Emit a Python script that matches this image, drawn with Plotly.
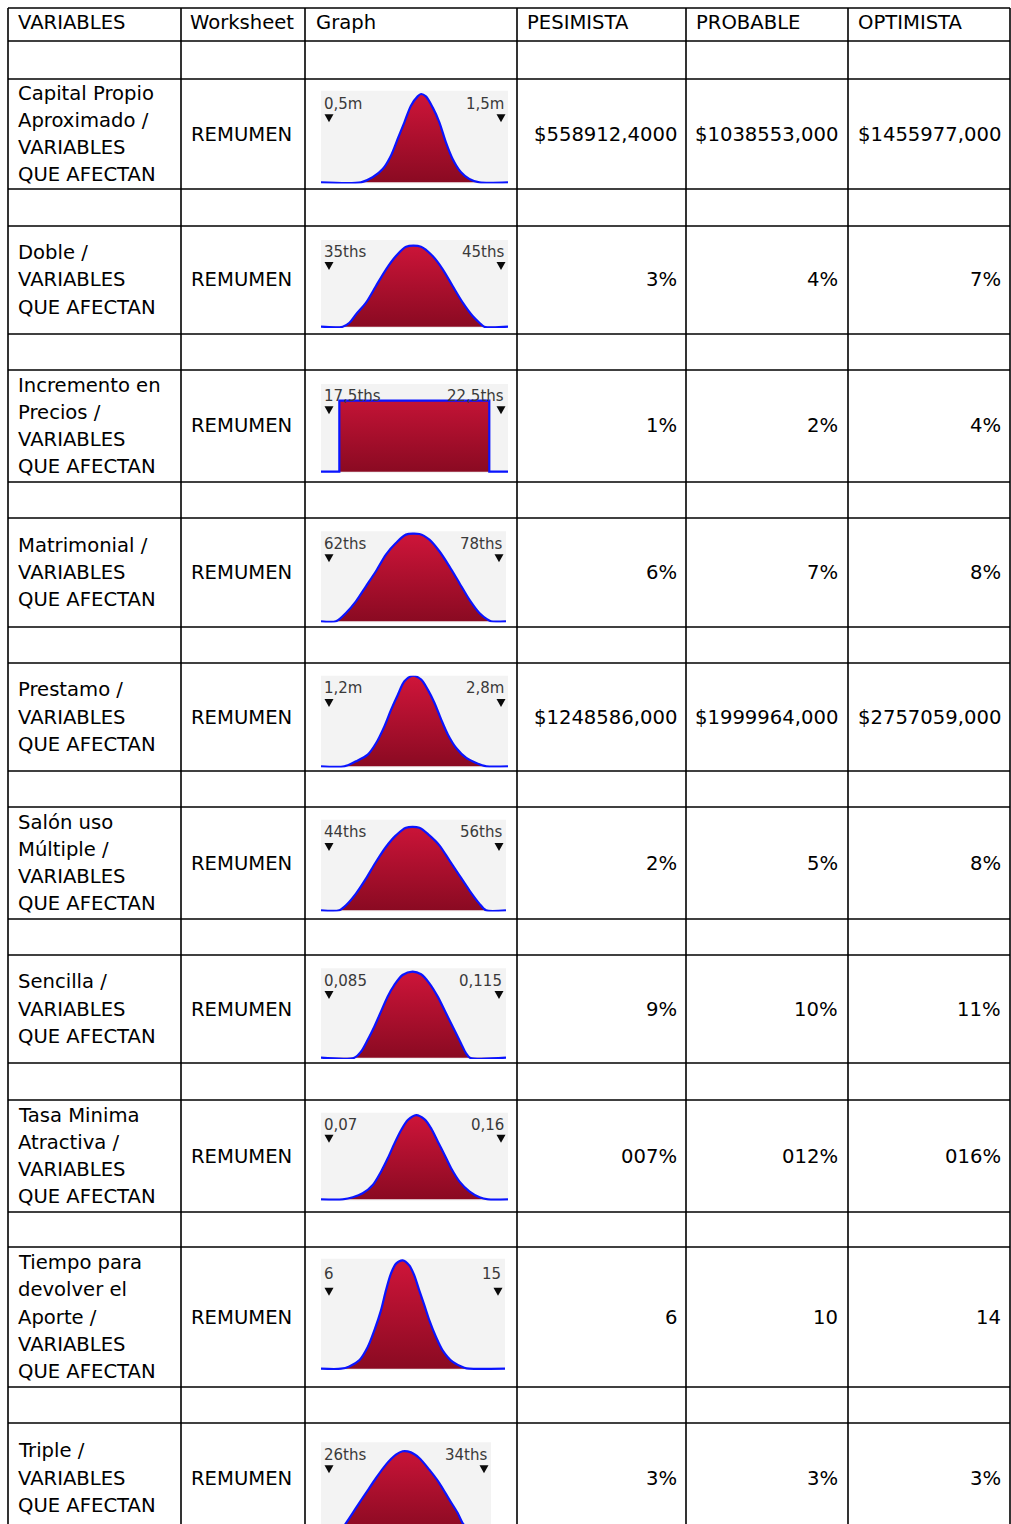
import plotly.graph_objects as go

W, H = 1011, 1524

# ---------------- data ----------------
headers = ["VARIABLES", "Worksheet", "Graph", "PESIMISTA", "PROBABLE", "OPTIMISTA"]
variables = [
    ["Capital Propio", "Aproximado /", "VARIABLES", "QUE AFECTAN"],
    ["Doble /", "VARIABLES", "QUE AFECTAN"],
    ["Incremento en", "Precios /", "VARIABLES", "QUE AFECTAN"],
    ["Matrimonial /", "VARIABLES", "QUE AFECTAN"],
    ["Prestamo /", "VARIABLES", "QUE AFECTAN"],
    ["Salón uso", "Múltiple /", "VARIABLES", "QUE AFECTAN"],
    ["Sencilla /", "VARIABLES", "QUE AFECTAN"],
    ["Tasa Minima", "Atractiva /", "VARIABLES", "QUE AFECTAN"],
    ["Tiempo para", "devolver el", "Aporte /", "VARIABLES", "QUE AFECTAN"],
    ["Triple /", "VARIABLES", "QUE AFECTAN"],
]
worksheets = ["REMUMEN"] * 10
pesimista = ["$558912,4000", "3%", "1%", "6%", "$1248586,000", "2%", "9%", "007%", "6", "3%"]
probable = ["$1038553,000", "4%", "2%", "7%", "$1999964,000", "5%", "10%", "012%", "10", "3%"]
optimista = ["$1455977,000", "7%", "4%", "8%", "$2757059,000", "8%", "11%", "016%", "14", "3%"]

graph_left_labels = ["0,5m", "35ths", "17,5ths", "62ths", "1,2m", "44ths", "0,085", "0,07", "6", "26ths"]
graph_right_labels = ["1,5m", "45ths", "22,5ths", "78ths", "2,8m", "56ths", "0,115", "0,16", "15", "34ths"]

# histogram outlines (x: % of graph width, y: % of graph height)
hist1_x = [21.4, 27.6, 33.0, 37.4, 41.0, 44.6, 48.1, 51.7, 53.5, 56.1, 59.7, 63.3, 66.8, 70.4, 74.9, 79.3, 84.7]
hist1_y = [0, 5.5, 14.5, 29.1, 47.3, 65.5, 83.6, 93.8, 96.4, 93.8, 81.8, 65.5, 43.6, 25.5, 10.9, 3.6, 0]
hist2_x = [11.6, 15.2, 18.7, 24.1, 29.4, 34.8, 40.1, 45.5, 53.5, 59.7, 65.1, 70.4, 75.8, 81.1, 84.7, 87.3]
hist2_y = [0, 4.6, 14.2, 27.7, 46.9, 66.2, 81.5, 92.3, 92.3, 81.5, 66.2, 46.9, 27.7, 12.3, 4.6, 0]
hist3_x = [9.8, 9.8, 90.0, 90.0]
hist3_y = [0, 81, 81, 0]
hist4_x = [8.1, 13.5, 18.9, 24.3, 29.7, 35.1, 40.5, 45.9, 53.2, 58.6, 64.0, 69.4, 74.8, 80.2, 85.6, 90.1, 91.9]
hist4_y = [0, 9.3, 22.2, 38.9, 55.6, 74.1, 87.0, 96.3, 97.0, 90.7, 77.8, 61.1, 42.6, 24.1, 9.3, 1.9, 0]
hist5_x = [12.5, 18.75, 25.0, 29.5, 33.9, 37.5, 41.1, 44.6, 49.1, 53.6, 57.1, 60.7, 64.3, 67.9, 72.3, 77.7, 83.0, 88.4]
hist5_y = [0, 5.5, 12.9, 25.7, 44.1, 62.5, 79.0, 93.8, 100, 95.6, 84.6, 69.9, 51.5, 34.9, 20.2, 9.2, 3.7, 0]
hist6_x = [9.9, 13.5, 18.9, 24.3, 29.7, 35.1, 40.5, 45.9, 53.2, 58.6, 64.0, 69.4, 74.8, 80.2, 85.6, 89.2]
hist6_y = [0, 5.5, 18.4, 34.9, 53.3, 69.9, 82.7, 91.2, 91.2, 82.7, 71.7, 55.1, 38.6, 22.1, 7.4, 0]
hist7_x = [18.0, 21.6, 25.2, 28.8, 32.4, 36.0, 39.6, 44.1, 49.5, 54.1, 58.6, 63.1, 67.6, 72.1, 75.7, 78.4, 80.5]
hist7_y = [0, 6.7, 19.8, 34.7, 51.5, 68.3, 81.3, 92.5, 96.3, 93.3, 83.2, 68.3, 49.6, 31.0, 16.0, 4.9, 0]
hist8_x = [11.6, 17.0, 22.3, 27.7, 32.1, 35.7, 39.3, 42.9, 46.4, 50.9, 55.4, 58.9, 62.5, 66.1, 69.6, 74.1, 79.5, 84.8, 89.3]
hist8_y = [0, 2.3, 6.9, 16.5, 31.9, 47.3, 64.6, 80.0, 91.5, 97.3, 92.3, 81.9, 66.5, 51.2, 35.8, 20.4, 8.8, 2.3, 0]
hist9_x = [10.9, 15.4, 20.8, 25.4, 29.0, 32.6, 35.3, 38.0, 40.8, 44.4, 48.0, 50.7, 53.4, 56.2, 58.9, 62.5, 66.1, 71.6, 77.9, 80.6]
hist9_y = [0, 2.1, 7.6, 19.7, 34.8, 53.0, 71.2, 86.4, 95.5, 98.5, 93.9, 84.8, 71.2, 57.6, 43.9, 28.8, 16.7, 6.1, 0.9, 0]
hist10_x = [10.8, 14.7, 20.6, 26.5, 32.4, 38.2, 44.1, 48.0, 52.9, 57.8, 63.7, 69.6, 75.5, 80.4, 83.3, 88.2]
hist10_y = [0, 10.0, 26.8, 43.5, 60.2, 75.1, 86.2, 90.0, 88.8, 82.5, 69.5, 54.6, 36.1, 21.2, 10.0, 0]

hist_x = [hist1_x, hist2_x, hist3_x, hist4_x, hist5_x, hist6_x, hist7_x, hist8_x, hist9_x, hist10_x]
hist_y = [hist1_y, hist2_y, hist3_y, hist4_y, hist5_y, hist6_y, hist7_y, hist8_y, hist9_y, hist10_y]

# ---------------- layout geometry (pixels) ----------------
col_x = [8, 181, 305, 517, 686, 848, 1010]
row_tops = [79, 226, 370, 518, 663, 807, 955, 1100, 1247, 1423]
row_bottoms = [189, 334, 482, 627, 771, 919, 1063, 1212, 1387, 1533]
# graph image rects: left, top, right, baseline, bottom
graph_rects = [
    (321, 90.7, 508, 182.3, 183.5),
    (321, 240.0, 508, 326.7, 328.0),
    (321, 384.0, 508, 471.7, 473.0),
    (321, 531.3, 506, 621.3, 622.5),
    (321, 675.7, 508, 766.3, 767.5),
    (321, 819.7, 506, 910.3, 911.5),
    (321, 968.3, 506, 1057.7, 1059.0),
    (321, 1112.7, 508, 1199.3, 1200.7),
    (321, 1258.7, 505, 1368.7, 1370.0),
    (321, 1442.3, 491, 1532.0, 1524.0),
]

FONT = "DejaVu Sans"
FS = 19.6


def px(x):
    return x / W


def py(y):
    return 1 - y / H


fig = go.Figure()
shapes = []
annotations = []

# table grid
hlines = [8, 41] + [v for pair in zip(row_tops, row_bottoms) for v in pair if v < H]
for y in hlines:
    shapes.append(dict(type="line", xref="paper", yref="paper", x0=px(col_x[0]), x1=px(col_x[-1]),
                       y0=py(y), y1=py(y), line=dict(color="black", width=1.6)))
for x in col_x:
    shapes.append(dict(type="line", xref="paper", yref="paper", x0=px(x), x1=px(x),
                       y0=py(8), y1=py(H), line=dict(color="black", width=1.6)))


def text(x, y, s, anchor="left", size=FS, color="black"):
    annotations.append(dict(x=px(x), y=py(y), xref="paper", yref="paper", text=s, showarrow=False,
                            xanchor=anchor, yanchor="middle",
                            font=dict(family=FONT, size=size, color=color)))


# header
header_x = [16, 188, 314, 525, 694, 856]
for hx, h in zip(header_x, headers):
    text(hx, 22.5, h)

LS = 27.3
for i in range(10):
    cy = (row_tops[i] + row_bottoms[i]) / 2
    if i == 9:
        cy = 1478
    lines = variables[i]
    n = len(lines)
    for k, ln in enumerate(lines):
        text(16, cy + (k - (n - 1) / 2) * LS, ln)
    text(189, cy, worksheets[i])
    text(679, cy, pesimista[i], anchor="right")
    text(840, cy, probable[i], anchor="right")
    text(1003, cy, optimista[i], anchor="right")

# mini histograms
for i in range(10):
    l, t, r, base, b = graph_rects[i]
    hh = base - t
    idx = "" if i == 0 else str(i + 1)
    ymin = -(b - base) / hh * 100
    fig.update_layout(**{
        f"xaxis{idx}": dict(domain=[px(l), px(r)], range=[0, 100], visible=False, fixedrange=True,
                            anchor=f"y{idx}"),
        f"yaxis{idx}": dict(domain=[py(b), py(t)], range=[ymin, 100], visible=False, fixedrange=True,
                            anchor=f"x{idx}"),
    })
    xs = [0] + hist_x[i] + [100]
    ys = [0] + hist_y[i] + [0]
    shape = "linear" if i == 2 else "spline"
    fig.add_trace(go.Scatter(
        x=xs, y=ys, mode="lines", fill="tozeroy",
        line=dict(width=0, shape=shape, smoothing=0.8, color="#b8102c"),
        fillgradient=dict(type="vertical", start=0, stop=100,
                          colorscale=[[0, "#8a0a22"], [1, "#d0153a"]]),
        xaxis=f"x{idx}", yaxis=f"y{idx}", showlegend=False, hoverinfo="skip"))
    fig.add_trace(go.Scatter(
        x=xs, y=ys, mode="lines",
        line=dict(width=2.2, shape=shape, smoothing=0.8, color="#0a14ff"),
        xaxis=f"x{idx}", yaxis=f"y{idx}", showlegend=False, hoverinfo="skip"))
    # labels and slider triangles
    lab_y = t + 0.14 * hh
    tri_y = t + 0.30 * hh
    text(l + 1, lab_y, graph_left_labels[i], size=15, color="#3a3a3a")
    text(r - 2, lab_y, graph_right_labels[i], anchor="right", size=15, color="#3a3a3a")
    for cx in (l + 8, r - 7):
        path = (f"M {px(cx - 4.5)},{py(tri_y - 4)} L {px(cx + 4.5)},{py(tri_y - 4)} "
                f"L {px(cx)},{py(tri_y + 4)} Z")
        shapes.append(dict(type="path", xref="paper", yref="paper", path=path,
                           fillcolor="#0a0a0a", line=dict(width=0)))

fig.update_layout(
    width=W, height=H, margin=dict(l=0, r=0, t=0, b=0),
    paper_bgcolor="white", plot_bgcolor="#f3f3f3",
    shapes=shapes, annotations=annotations, showlegend=False,
)

fig.write_html("out.html", config={"displayModeBar": False},
               post_script="document.body.style.margin='0';document.body.style.overflow='hidden';")
